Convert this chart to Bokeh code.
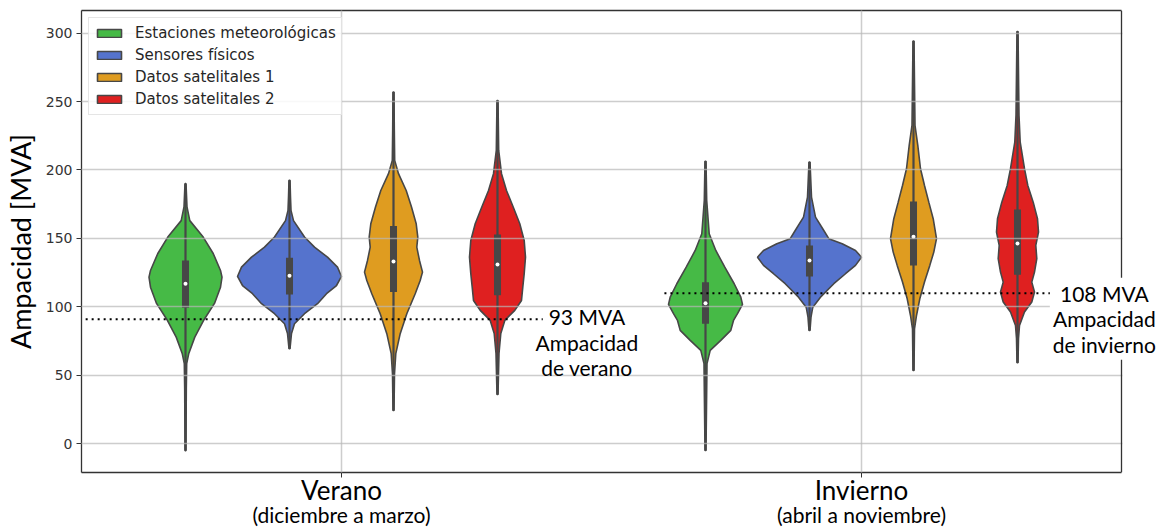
from bokeh.plotting import figure
from bokeh.models import (Range1d, LinearAxis, FixedTicker, Label, Legend, LegendItem,
                          BoxAnnotation, Span)
from bokeh.embed import file_html
from bokeh.resources import INLINE

# ---------------- data ----------------
seasons = ["Verano", "Invierno"]
season_notes = ["(diciembre a marzo)", "(abril a noviembre)"]
sources = ["Estaciones meteorológicas", "Sensores físicos",
           "Datos satelitales 1", "Datos satelitales 2"]
colors = ["#46BA46", "#5573CD", "#DF9C20", "#DF2020"]

# violin profiles: y level [MVA] and estimated density (relative half-width)
ver_est_y = [190, 173, 163, 151, 139, 126.6, 121.7, 114.4, 102.5, 90, 77.9, 66, 58.6, 40, -5]
ver_est_d = [0.5, 1.5, 4.3, 17.7, 27.7, 35, 36.5, 35, 29, 18, 9.3, 3.3, 1.2, 0.8, 0.5]
ver_sen_y = [192.4, 180, 170.5, 163, 151, 143.6, 136.3, 129, 122.2, 115.6, 109.6, 102.3, 95, 87.7, 80.6, 69.4]
ver_sen_d = [0.5, 1, 1.5, 4, 15, 25, 38, 48, 52, 47, 37, 28, 15, 5, 2, 0.5]
ver_sa1_y = [256.9, 230, 207, 197.3, 185, 172.9, 160.7, 151, 143.6, 133.9, 125.4, 119.3, 109.6, 95, 80.4, 65.8, 51, 24.3]
ver_sa1_d = [0.5, 0.8, 1.2, 5, 12.7, 18, 22.7, 24.3, 23.3, 26, 29, 26.7, 21.7, 13.3, 6.7, 2.3, 1, 0.5]
ver_sa2_y = [250.8, 214.3, 197.3, 185, 172.9, 160.7, 148.5, 136.3, 124.2, 114.4, 104.7, 97.4, 90.1, 80.6, 66, 36]
ver_sa2_d = [0.5, 1.2, 4, 9, 15.7, 22.3, 26.7, 28, 26.7, 25.3, 24, 17.3, 7.3, 3.3, 1.5, 0.5]

inv_est_y = [206.3, 177.8, 153.4, 141.2, 129, 116.9, 107.1, 101.8, 95, 90.1, 82.8, 75.5, 68.2, 58.5, -4.9]
inv_est_d = [0.5, 1.2, 3.7, 10.3, 19.3, 28.7, 35.3, 37, 32, 28, 25.3, 15.3, 4.7, 1.5, 0.5]
inv_sen_y = [205.8, 180.2, 165.6, 155.8, 149.8, 146.1, 141.2, 136.3, 130.3, 124.2, 116.9, 107.1, 99.8, 92.5, 82.8]
inv_sen_d = [0.5, 2, 6, 14.3, 19.3, 32.7, 46, 52, 46, 36, 24.3, 11, 3.3, 1.5, 0.5]
inv_sa1_y = [294.2, 232.6, 218, 200.9, 188.7, 176.5, 164.4, 149.8, 140, 130.3, 118.1, 105.9, 93.7, 84, 53.6]
inv_sa1_d = [0.5, 1.5, 4.3, 7, 11, 15.3, 19.7, 23, 20.3, 16.3, 11, 6.3, 3, 1, 0.5]
inv_sa2_y = [301.2, 239.9, 220.4, 200.9, 188.7, 176.5, 164.4, 154.6, 144.9, 135.2, 125.4, 118.1, 110.8, 103.5, 96.2, 86.4, 76.9, 59.2]
inv_sa2_d = [0.5, 1.5, 2.7, 7, 10.3, 15.7, 20, 21, 18.3, 19.3, 17, 14.3, 17, 14.3, 7, 2, 1, 0.5]

# inner box statistics per source
ver_q1 = [99.4, 109.0, 110.8, 108.4]
ver_med = [116.9, 122.7, 133.2, 131.0]
ver_q3 = [133.9, 135.9, 159.0, 152.9]
ver_lo = [-5.0, 69.4, 24.3, 36.0]
ver_hi = [190.0, 192.4, 256.9, 250.8]
inv_q1 = [87.7, 122.2, 130.3, 123.5]
inv_med = [102.7, 133.9, 151.2, 146.3]
inv_q3 = [118.0, 144.9, 177.0, 171.2]
inv_lo = [-4.9, 82.8, 53.6, 59.2]
inv_hi = [206.3, 205.8, 294.2, 301.2]

limit_values = [91, 110]
limit_labels = ["93 MVA\nAmpacidad\nde verano", "108 MVA\nAmpacidad\nde invierno"]

y_ticks = [0, 50, 100, 150, 200, 250, 300]

# ---------------- layout / style ----------------
profiles = {
    0: [(ver_est_y, ver_est_d), (ver_sen_y, ver_sen_d), (ver_sa1_y, ver_sa1_d), (ver_sa2_y, ver_sa2_d)],
    1: [(inv_est_y, inv_est_d), (inv_sen_y, inv_sen_d), (inv_sa1_y, inv_sa1_d), (inv_sa2_y, inv_sa2_d)],
}
stats = {
    0: (ver_q1, ver_med, ver_q3, ver_lo, ver_hi),
    1: (inv_q1, inv_med, inv_q3, inv_lo, inv_hi),
}
DENS_SCALE = 0.1 / 52.0          # widest violin fills its 0.2-wide slot
SLOT = 0.2
OUTLINE = "#474747"
SPINE = "#333333"
FONT_TXT = "Lato"
FONT_TICK = "DejaVu Sans"
PX_PER_UNIT = 520.0
FRAME_W = 1078
X_END = -0.5 + FRAME_W / PX_PER_UNIT   # frame continues past the right spine for the label

p = figure(frame_width=FRAME_W, frame_height=462, output_backend="svg", toolbar_location=None,
           x_range=Range1d(-0.5, X_END), y_range=Range1d(-21, 316.5),
           min_border_left=75, min_border_right=0, min_border_top=10, min_border_bottom=0)
p.background_fill_color = "white"
p.outline_line_color = None

def offset(i):
    return (i - 1.5) * SLOT

legend_items = []
for i, (src, col) in enumerate(zip(sources, colors)):
    xs, ys = [], []
    for s in (0, 1):
        yv, dv = profiles[s][i]
        c = s + offset(i)
        xr = [c + d * DENS_SCALE for d in dv]
        xl = [c - d * DENS_SCALE for d in reversed(dv)]
        xs.append(xr + xl)
        ys.append(list(yv) + list(reversed(yv)))
    r = p.patches(xs, ys, fill_color=col, line_color=OUTLINE, line_width=1.6)
    legend_items.append(LegendItem(label=src, renderers=[r]))

# inner boxes
for s in (0, 1):
    q1, med, q3, lo, hi = stats[s]
    cx = [s + offset(i) for i in range(4)]
    p.segment(x0=cx, y0=lo, x1=cx, y1=hi, line_color=OUTLINE, line_width=2.2)
    p.vbar(x=cx, bottom=q1, top=q3, width=0.0135, fill_color=OUTLINE, line_color=None)
    p.scatter(x=cx, y=med, size=4, fill_color="white", line_color=None)

# capacity limits
lim_x0 = [-0.492, 0.621]
lim_x1 = [0.387, 1.387]
p.segment(x0=lim_x0, y0=limit_values, x1=lim_x1, y1=limit_values,
          line_color="black", line_width=2, line_dash="2 4")

# grid
p.xgrid.ticker = FixedTicker(ticks=[0, 1])
p.ygrid.ticker = FixedTicker(ticks=y_ticks)
for g in (p.xgrid, p.ygrid):
    g.grid_line_color = "#b8b8b8"
    g.grid_line_alpha = 0.7
    g.grid_line_width = 1.5
    g.level = "guide"

# white area right of the axes box, then the right spine
p.add_layout(BoxAnnotation(left=1.5016, fill_color="white", fill_alpha=1.0,
                           line_color=None, level="annotation"))
p.add_layout(Span(location=1.5, dimension="height", line_color=SPINE,
                  line_width=1.3, level="annotation"))

lab_pos = [(0.472, 74.3), (1.467, 91.3)]
for k in range(2):
    lab = Label(x=lab_pos[k][0], y=lab_pos[k][1], text=limit_labels[k],
                text_align="center", text_baseline="middle",
                text_font=FONT_TXT, text_font_size="21px", text_color="black",
                text_line_height=1.02, level="overlay")
    if k == 1:
        lab.background_fill_color = "white"
        lab.padding = 3
    p.add_layout(lab)

# y axis
ya = p.yaxis[0]
ya.ticker = FixedTicker(ticks=y_ticks)
ya.axis_line_color = SPINE
ya.axis_line_width = 1.3
ya.major_tick_line_color = SPINE
ya.major_tick_in = 0
ya.major_tick_out = 5
ya.minor_tick_line_color = None
ya.major_label_text_font = FONT_TICK
ya.major_label_text_font_size = "14px"
ya.major_label_text_color = "#333333"
ya.major_label_standoff = 4
ya.axis_label = "Ampacidad [MVA]"
ya.axis_label_text_font = FONT_TXT
ya.axis_label_text_font_size = "27px"
ya.axis_label_text_font_style = "normal"
ya.axis_label_text_color = "black"
ya.axis_label_standoff = 6

# x axes
xa = p.xaxis[0]
xa.ticker = FixedTicker(ticks=[0, 1])
xa.bounds = (-0.5, 1.5)
xa.major_label_overrides = {0: seasons[0], 1: seasons[1]}
xa.axis_label = None
xa.axis_line_color = SPINE
xa.axis_line_width = 1.3
xa.major_tick_line_color = SPINE
xa.major_tick_in = 0
xa.major_tick_out = 5
xa.minor_tick_line_color = None
xa.major_label_text_font = FONT_TXT
xa.major_label_text_font_size = "26px"
xa.major_label_text_color = "black"
xa.major_label_standoff = -4

xa2 = LinearAxis(ticker=FixedTicker(ticks=[0, 1]), axis_label=None,
                 major_label_overrides={0: season_notes[0], 1: season_notes[1]})
xa2.axis_line_color = None
xa2.major_tick_line_color = None
xa2.major_tick_in = 0
xa2.major_tick_out = 0
xa2.minor_tick_line_color = None
xa2.major_label_text_font = FONT_TXT
xa2.major_label_text_font_size = "21px"
xa2.major_label_text_color = "black"
xa2.major_label_standoff = -7
p.add_layout(xa2, "below")

# top spine
xtop = LinearAxis(ticker=FixedTicker(ticks=[]), axis_label=None, bounds=(-0.5, 1.5))
xtop.axis_line_color = SPINE
xtop.axis_line_width = 1.3
xtop.major_tick_line_color = None
xtop.minor_tick_line_color = None
xtop.major_tick_in = 0
xtop.major_tick_out = 0
xtop.major_label_standoff = 0
p.add_layout(xtop, "above")

# legend
leg = Legend(items=legend_items, location="top_left")
leg.margin = 7
leg.padding = 5
leg.spacing = 2
leg.label_height = 20
leg.glyph_width = 30
leg.glyph_height = 10
leg.label_standoff = 11
leg.label_text_font = FONT_TICK
leg.label_text_font_size = "15px"
leg.label_text_color = "#262626"
leg.border_line_color = "#cccccc"
leg.border_line_width = 1
leg.background_fill_color = "white"
leg.background_fill_alpha = 0.85
p.add_layout(leg, "center")

open("out.html", "w").write(file_html(p, INLINE))
